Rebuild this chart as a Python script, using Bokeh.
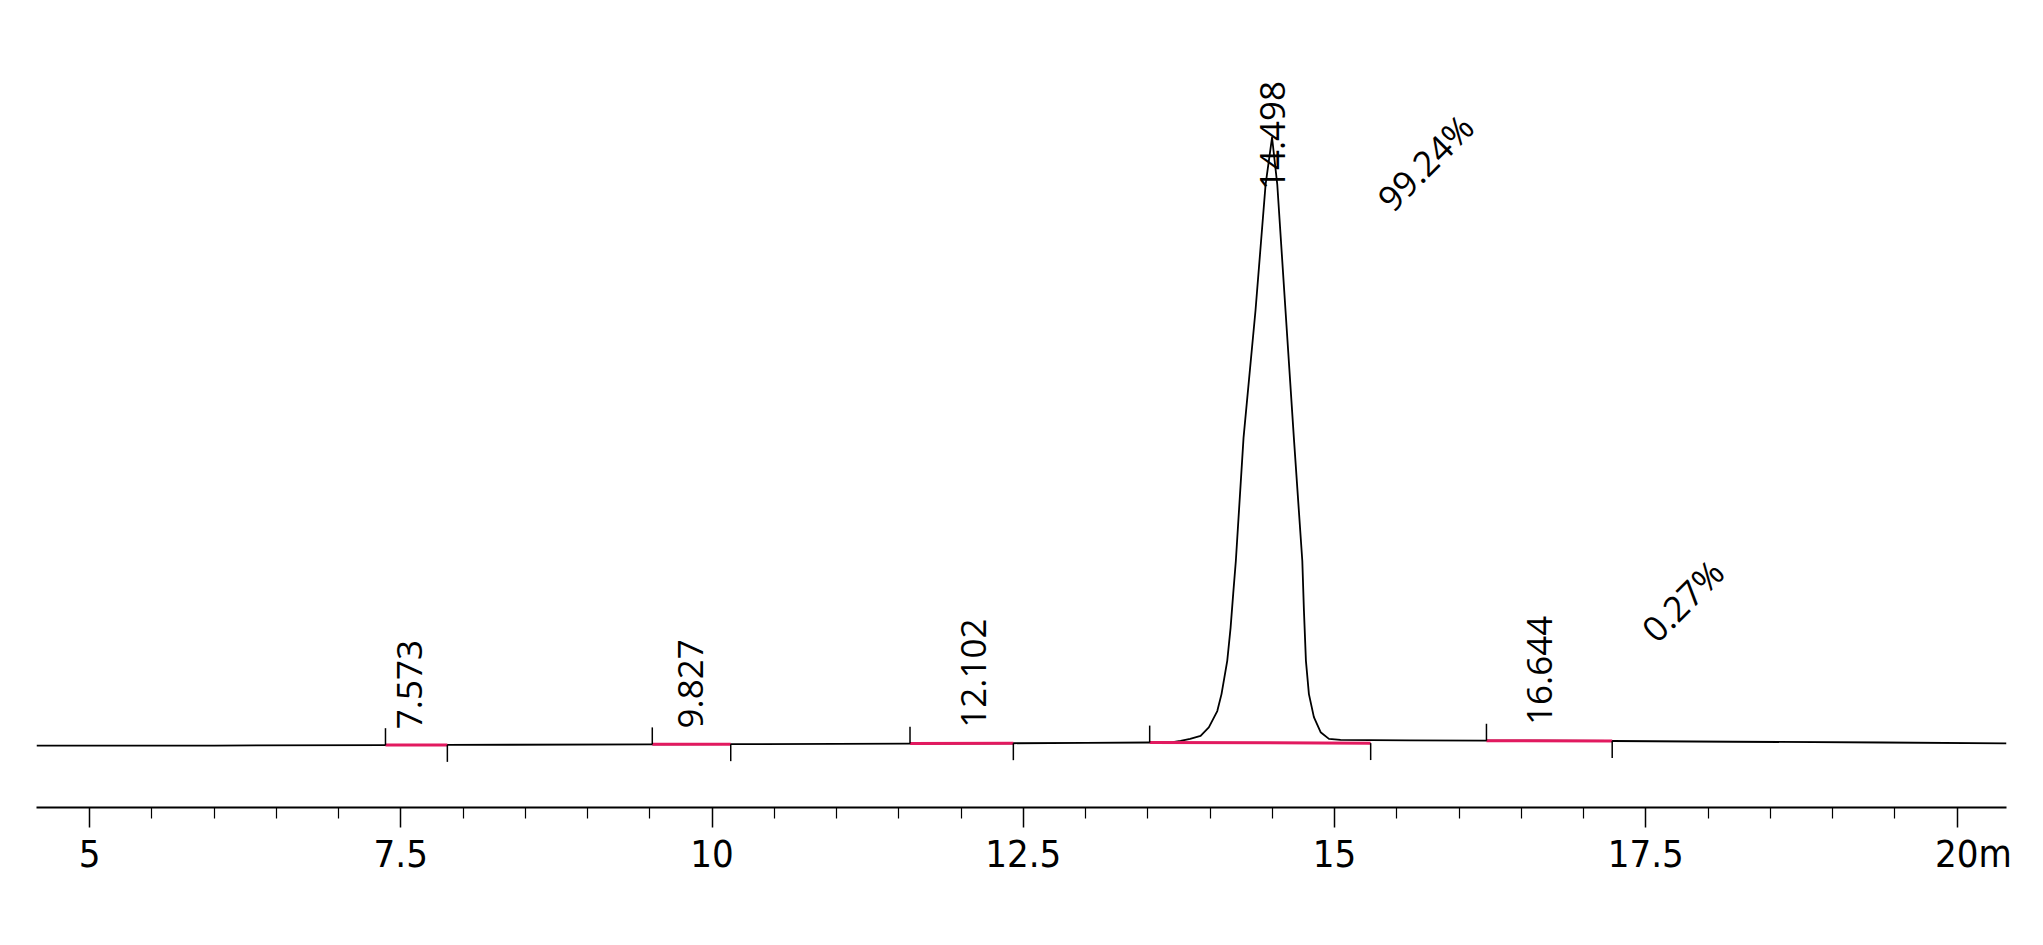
import numpy as np
from bokeh.plotting import figure
from bokeh.models import Range1d, FixedTicker
from bokeh.core.properties import value
from bokeh.embed import file_html
from bokeh.resources import INLINE

# ---- chromatogram trace (time in min, signal in mAU) ----
time_min = [4.574, 6.0, 7.377, 7.874, 9.52, 10.15, 11.59, 12.42, 13.0, 13.515,
            13.70, 13.763, 13.84, 13.924, 13.99, 14.058, 14.092, 14.138, 14.165,
            14.186, 14.207, 14.269, 14.365, 14.446, 14.498, 14.540, 14.606, 14.673,
            14.741, 14.754, 14.770, 14.794, 14.834, 14.888, 14.955, 15.048, 15.29,
            15.6, 16.22, 16.644, 17.23, 18.2, 19.4, 20.397]
signal = [-5.0, -5.0, -4.3, -4.0, -3.0, -2.8, -1.8, -1.2, -0.5, 0.0,
          0.5, 2.8, 6.0, 11.0, 25.0, 52.0, 80.0, 135.0, 190.0,
          246.0, 300.0, 504.0, 714.0, 922.0, 1000.0, 922.0, 714.0, 504.0,
          300.0, 218.0, 135.0, 80.0, 42.0, 17.0, 6.0, 4.5, 4.0,
          3.5, 3.0, 3.0, 2.5, 1.3, 0.0, -1.3]

# ---- integration results ----
peak_rt = [7.573, 9.827, 12.102, 14.498, 16.644]
peak_start = [7.377, 9.52, 11.59, 13.515, 16.22]
peak_end = [7.874, 10.15, 12.42, 15.29, 17.23]
base_start = [-4.3, -3.0, -1.8, 0.0, 3.0]
base_end = [-4.0, -2.8, -1.2, -1.0, 2.5]
pct_rt = [14.498, 16.644]
pct_text = ["99.24%", "0.27%"]

# ---- axis ticks ----
tick_values = [5, 7.5, 10, 12.5, 15, 17.5, 20]
tick_labels = ["5", "7.5", "10", "12.5", "15", "17.5", "20m"]

# ---- placement of annotations (layout, not data) ----
LABEL_GAP = 26.0        # gap between trace and RT label
LABEL_CEIL = 913.0      # highest start of an RT label
MARK_LEN = 28.0         # integration marker length
PCT_DX = [1.23, 1.15]
PCT_Y = [959.0, 235.0]

p = figure(frame_width=1970, frame_height=799, min_border_left=36, min_border_right=30,
           min_border_top=8, min_border_bottom=130,
           x_range=Range1d(4.574, 20.397), y_range=Range1d(-107.4, 1213.2),
           y_axis_location=None, toolbar_location=None, output_backend="svg",
           background_fill_color="white", border_fill_color="white")
p.outline_line_color = None
p.grid.visible = False

# trace
p.line(time_min, signal, line_color="black", line_width=1.8, line_join="round")

# integration baselines and markers
bs = np.array(base_start)
be = np.array(base_end)
p.segment(x0=peak_start, y0=bs, x1=peak_end, y1=be,
          line_color="#E2195F", line_width=3)
p.segment(x0=peak_start, y0=bs, x1=peak_start, y1=bs + MARK_LEN,
          line_color="black", line_width=1.5)
p.segment(x0=peak_end, y0=be, x1=peak_end, y1=be - MARK_LEN,
          line_color="black", line_width=1.5)

# retention time labels
h_rt = np.interp(peak_rt, time_min, signal)
label_y = np.minimum(h_rt + LABEL_GAP, LABEL_CEIL)
p.text(x=peak_rt, y=label_y, text=[f"{r:.3f}" for r in peak_rt], angle=np.pi / 2,
       text_align="left", text_baseline="middle", text_font=value("Open Sans"),
       text_font_size="35px", text_color="black")

# area percent labels
p.text(x=[r + d for r, d in zip(pct_rt, PCT_DX)], y=PCT_Y, text=pct_text, angle=np.pi / 4,
       text_align="center", text_baseline="middle", text_font=value("Open Sans"),
       text_font_size="35px", text_color="black")

# x axis
minor = [v for v in np.arange(5.0, 20.01, 0.5) if v not in tick_values]
ax = p.xaxis[0]
ax.ticker = FixedTicker(ticks=tick_values, minor_ticks=minor)
overrides = {}
for v, lab in zip(tick_values, tick_labels):
    if lab.endswith("m"):
        lab = "\u00a0\u00a0\u00a0" + lab
    overrides[v] = lab
ax.major_label_overrides = overrides
ax.axis_line_color = "black"
ax.axis_line_width = 2
ax.major_tick_line_color = "black"
ax.major_tick_line_width = 1.5
ax.minor_tick_line_color = "black"
ax.minor_tick_line_width = 1.2
ax.major_tick_in = 0
ax.major_tick_out = 20
ax.minor_tick_in = 0
ax.minor_tick_out = 11
ax.major_label_standoff = 4
ax.major_label_text_font = "'DejaVu Sans Condensed', 'DejaVu Sans', sans-serif"
ax.major_label_text_font_size = "38px"
ax.major_label_text_color = "black"

open("out.html", "w").write(file_html(p, INLINE))
